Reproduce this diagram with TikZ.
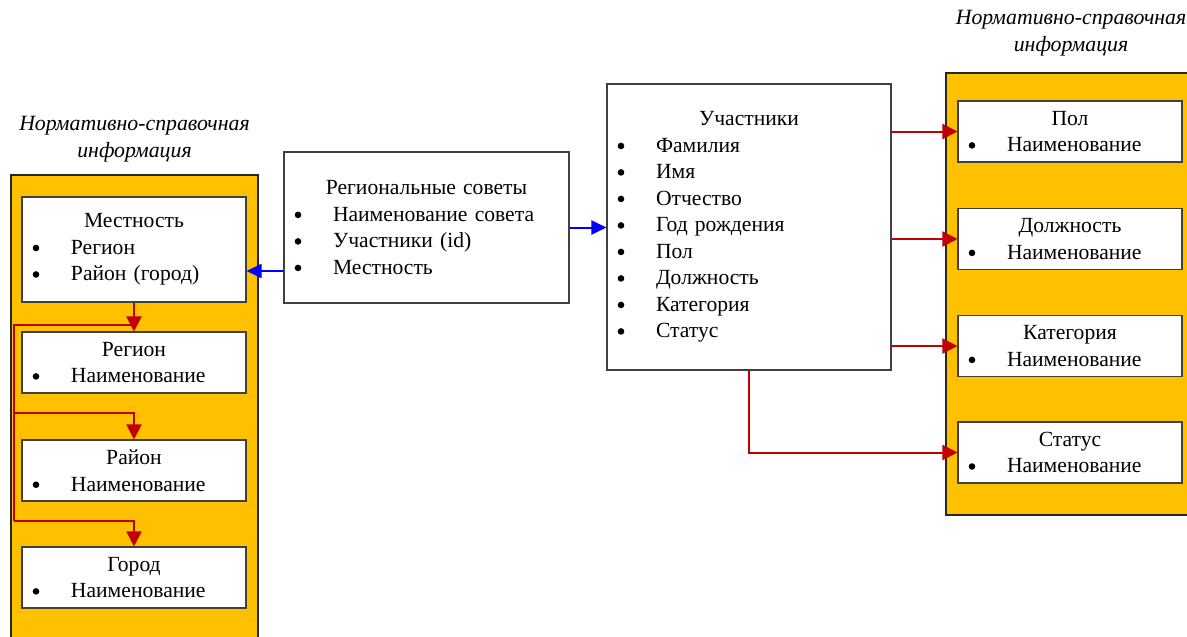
\documentclass[tikz,border=0pt]{standalone}
\usepackage{fontspec}
\setmainfont{Liberation Serif}
\usetikzlibrary{arrows.meta}
\definecolor{nsigold}{HTML}{FFC000}
\definecolor{linkred}{HTML}{C00000}
\definecolor{linkblue}{HTML}{0000FF}
\definecolor{boxgray}{HTML}{404040}
\newcommand{\dotmark}{\tikz[baseline=0pt]\fill[black] (0pt,6.3pt) circle (3.3pt);}
\newcommand{\itm}[1]{\makebox[28pt]{\dotmark}\hspace{21pt}#1}
\newcommand{\ttl}[1]{\makebox[\hsize][c]{#1}}
\tikzset{
    tbl/.style={draw=boxgray, line width=1.1pt, fill=white, inner sep=0pt, align=left,
        font=\fontsize{21.6}{26.5}\selectfont},
    nsi/.style={draw=black!85, line width=1.2pt, fill=nsigold},
    nsititle/.style={align=center, font=\fontsize{21.8}{27}\selectfont\itshape},
    redarrow/.style={draw=linkred, line width=2pt, -{Triangle[length=15pt,width=15pt]}},
    redline/.style={draw=linkred, line width=2pt},
    bluearrow/.style={draw=linkblue, line width=2pt, -{Triangle[length=15pt,width=14pt]}}
}
\begin{document}
\begin{tikzpicture}[x=1pt,y=-1pt]
    \useasboundingbox (0,0) rectangle (1187,637);
    % panels
    \draw[nsi] (11,175) rectangle (258,660);
    \draw[nsi] (946,73) rectangle (1200,515);
    \node[nsititle] (nsileft) at (134.5,139) {Нормативно-справочная\\информация};
    \node[nsititle] (nsiright) at (1071,33) {Нормативно-справочная\\информация};
    % left side
    \node[tbl, text width=224pt, minimum height=105pt] (mest) at (134,249.5)
        {\ttl{Местность}\\\itm{Регион}\\\itm{Район (город)}};
    \foreach \nm/\tx/\yc in {reg/Регион/362.5, rayon/Район/470.5, gorod/Город/577.5}{
        \node[tbl, text width=224pt, minimum height=61pt] (\nm) at (134,\yc)
            {\ttl{\tx}\\\itm{Наименование}};
    }
    % middle
    \node[tbl, text width=285pt, minimum height=151pt] (sovety) at (426.5,227.5)
        {\ttl{Региональные советы}\\\itm{Наименование совета}\\\itm{Участники (id)}\\\itm{Местность}};
    \node[tbl, text width=284pt, minimum height=286pt] (uch) at (749,227)
        {\ttl{Участники}\\\itm{Фамилия}\\\itm{Имя}\\\itm{Отчество}\\\itm{Год рождения}\\\itm{Пол}\\\itm{Должность}\\\itm{Категория}\\\itm{Статус}};
    % right side
    \foreach \nm/\tx/\yc in {pol/Пол/131.5, dolzh/Должность/239, kat/Категория/346, stat/Статус/452.5}{
        \node[tbl, text width=224pt, minimum height=61pt] (\nm) at (1070,\yc)
            {\ttl{\tx}\\\itm{Наименование}};
    }
    % links
    \coordinate (bus) at (14,325);
    \coordinate (busend) at (14,521);
    \draw[redarrow] (mest.south) -- (reg.north);
    \draw[redline] (mest.south |- bus) -- (bus) -- (busend);
    \draw[redarrow] (bus |- 0,413) -| (rayon.north);
    \draw[redarrow] (busend) -| (gorod.north);
    \draw[bluearrow] (sovety.west |- 0,271) -- (mest.east |- 0,271);
    \draw[bluearrow] (sovety.east) -- (uch.west |- sovety.east);
    \foreach \nm in {pol,dolzh,kat}
        \draw[redarrow] (uch.east |- \nm.west) -- (\nm.west);
    \draw[redarrow] (uch.south) |- (stat.west);
\end{tikzpicture}
\end{document}
